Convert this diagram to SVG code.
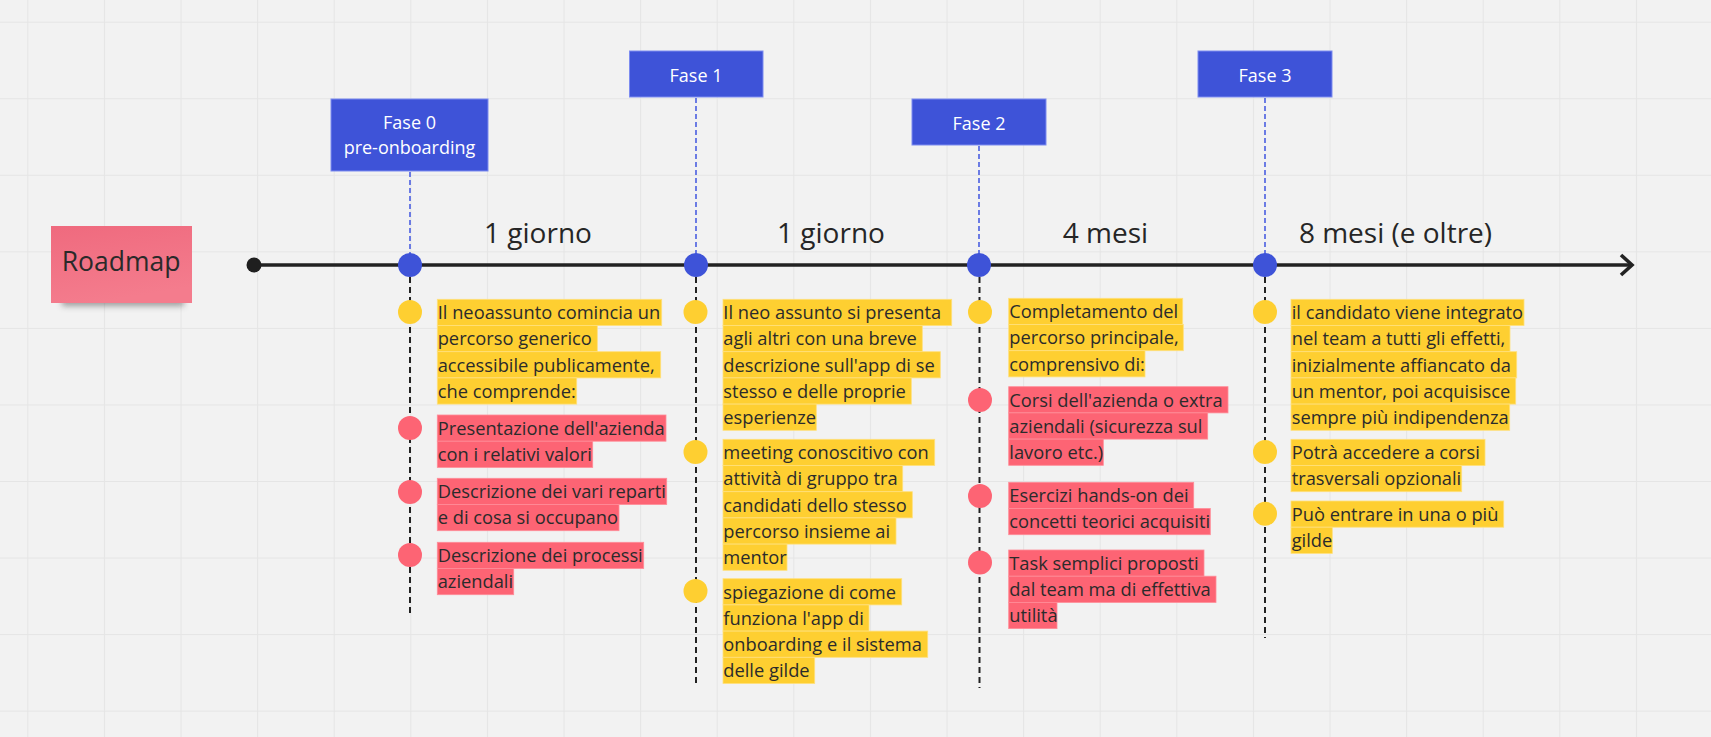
<svg xmlns="http://www.w3.org/2000/svg" width="1711" height="737" viewBox="0 0 1711 737">
<defs>
<pattern id="grid" patternUnits="userSpaceOnUse" x="27.3" y="21.7" width="76.6" height="76.55">
<path d="M0.5 0V76.55M0 0.5H76.6" stroke="#e5e5e5" stroke-width="1.2" fill="none"/>
</pattern>
<linearGradient id="sticky" x1="0" y1="0" x2="0.3" y2="1">
<stop offset="0" stop-color="#ef6a7e"/>
<stop offset="1" stop-color="#f47c8d"/>
</linearGradient>
<filter id="shadow" x="-20%" y="-50%" width="140%" height="200%">
<feGaussianBlur stdDeviation="3"/>
</filter>
<marker id="arrow" markerUnits="userSpaceOnUse" markerWidth="30" markerHeight="30" refX="14" refY="12" orient="auto">
<path d="M3 2 L14 12 L3 22" fill="none" stroke="#222" stroke-width="3.6" stroke-linejoin="miter"/>
</marker>
</defs>
<style>
.t{font-family:"Open Sans","Noto Sans","Liberation Sans",sans-serif;}
.item{font-size:18.3px;fill:#2b2b2b;}
.hy{fill:#fecf31;stroke:#ffe07c;stroke-width:0.8;}
.hr{fill:#fd6474;stroke:#ff8c98;stroke-width:0.8;}
.cy{fill:#fecf31;}
.cr{fill:#fd6474;}
.fase rect{fill:#3e53d8;stroke:#7d8cf0;stroke-width:1;}
.fase text{font-size:18px;fill:#ffffff;text-anchor:middle;}
.dur{font-size:28px;fill:#262626;text-anchor:middle;}
.vdash{stroke:#222;stroke-width:2;stroke-dasharray:6 4;fill:none;}
.bdash{stroke:#4a5ee0;stroke-width:1.6;stroke-dasharray:5 3;fill:none;}
.dot{fill:#3e53d8;}
</style>
<rect width="1711" height="737" fill="#f2f2f2"/>
<rect width="1711" height="737" fill="url(#grid)"/>

<g id="roadmap">
<rect x="62" y="292" width="122" height="14" fill="#555" opacity="0.55" filter="url(#shadow)"/>
<rect x="51" y="226" width="141" height="77" fill="url(#sticky)"/>
<text class="t" x="121" y="271" font-size="26.5" fill="#2a2a2a" text-anchor="middle">Roadmap</text>
</g>

<g id="connectors">
<line x1="254" y1="265" x2="1632" y2="265" stroke="#222" stroke-width="3.4" marker-end="url(#arrow)"/>
<line class="bdash" x1="410" y1="172" x2="410" y2="254"/>
<line class="bdash" x1="696" y1="98" x2="696" y2="254"/>
<line class="bdash" x1="979" y1="146" x2="979" y2="254"/>
<line class="bdash" x1="1265" y1="98" x2="1265" y2="254"/>
<line class="vdash" x1="410" y1="277" x2="410" y2="614"/>
<line class="vdash" x1="696" y1="277" x2="696" y2="687"/>
<line class="vdash" x1="979.5" y1="277" x2="979.5" y2="688"/>
<line class="vdash" x1="1265" y1="277" x2="1265" y2="638"/>
</g>

<g id="start">
<circle cx="254" cy="265" r="7.5" fill="#1f1f1f"/>
</g>

<g id="milestones">
<circle class="dot" cx="410" cy="265" r="12"/>
<circle class="dot" cx="696" cy="265" r="12"/>
<circle class="dot" cx="979" cy="265" r="12"/>
<circle class="dot" cx="1265" cy="265" r="12"/>
</g>

<g id="fase0" class="fase t">
<rect x="331" y="99" width="157" height="72"/>
<text x="409.5" y="128.5">Fase 0</text>
<text x="409.5" y="154">pre-onboarding</text>
</g>
<g id="fase1" class="fase t">
<rect x="629.5" y="51" width="133.5" height="46"/>
<text x="696" y="81.5">Fase 1</text>
</g>
<g id="fase2" class="fase t">
<rect x="912" y="99" width="134" height="46"/>
<text x="979" y="129.5">Fase 2</text>
</g>
<g id="fase3" class="fase t">
<rect x="1198" y="51" width="134" height="46"/>
<text x="1265" y="81.5">Fase 3</text>
</g>

<g id="durations" class="t">
<text class="dur" x="538" y="243">1 giorno</text>
<text class="dur" x="831" y="243">1 giorno</text>
<text class="dur" x="1105.5" y="243">4 mesi</text>
<text class="dur" x="1395.5" y="243">8 mesi (e oltre)</text>
</g>

<!-- Column 0 -->
<g id="c0-a">
<circle class="cy" cx="410" cy="312" r="12"/>
<rect class="hy" x="437.3" y="299.3" width="224.4" height="26.2"/>
<rect class="hy" x="437.3" y="325.5" width="160" height="26.2"/>
<rect class="hy" x="437.3" y="351.7" width="223.4" height="26.2"/>
<rect class="hy" x="437.3" y="377.9" width="139.4" height="26.2"/>
<text class="t item"><tspan x="437.7" y="319.1">Il neoassunto comincia un</tspan><tspan x="437.7" y="345.3">percorso generico</tspan><tspan x="437.7" y="371.5">accessibile publicamente,</tspan><tspan x="437.7" y="397.7">che comprende:</tspan></text>
</g>
<g id="c0-b">
<circle class="cr" cx="410" cy="428" r="12"/>
<rect class="hr" x="437.3" y="415" width="228.7" height="26.2"/>
<rect class="hr" x="437.3" y="441.2" width="155.4" height="26.2"/>
<text class="t item"><tspan x="437.7" y="434.8">Presentazione dell'azienda</tspan><tspan x="437.7" y="461">con i relativi valori</tspan></text>
</g>
<g id="c0-c">
<circle class="cr" cx="410" cy="492" r="12"/>
<rect class="hr" x="437.3" y="478.3" width="229.4" height="26.2"/>
<rect class="hr" x="437.3" y="504.5" width="181.7" height="26.2"/>
<text class="t item"><tspan x="437.7" y="498.1">Descrizione dei vari reparti</tspan><tspan x="437.7" y="524.3">e di cosa si occupano</tspan></text>
</g>
<g id="c0-d">
<circle class="cr" cx="410" cy="555" r="12"/>
<rect class="hr" x="437.3" y="542.3" width="206.4" height="26.2"/>
<rect class="hr" x="437.3" y="568.5" width="76.4" height="26.2"/>
<text class="t item"><tspan x="437.7" y="562.1">Descrizione dei processi</tspan><tspan x="437.7" y="588.3">aziendali</tspan></text>
</g>

<!-- Column 1 -->
<g id="c1-a">
<circle class="cy" cx="695.5" cy="312" r="12"/>
<rect class="hy" x="723" y="299.3" width="228.7" height="26.2"/>
<rect class="hy" x="723" y="325.5" width="199.3" height="26.2"/>
<rect class="hy" x="723" y="351.7" width="217.3" height="26.2"/>
<rect class="hy" x="723" y="377.9" width="188.3" height="26.2"/>
<rect class="hy" x="723" y="404.1" width="93.3" height="26.2"/>
<text class="t item"><tspan x="723.3" y="319.1">Il neo assunto si presenta</tspan><tspan x="723.3" y="345.3">agli altri con una breve</tspan><tspan x="723.3" y="371.5">descrizione sull'app di se</tspan><tspan x="723.3" y="397.7">stesso e delle proprie</tspan><tspan x="723.3" y="423.9">esperienze</tspan></text>
</g>
<g id="c1-b">
<circle class="cy" cx="695.5" cy="452" r="12"/>
<rect class="hy" x="723" y="439.3" width="211.7" height="26.2"/>
<rect class="hy" x="723" y="465.5" width="179.7" height="26.2"/>
<rect class="hy" x="723" y="491.7" width="189.3" height="26.2"/>
<rect class="hy" x="723" y="517.9" width="173" height="26.2"/>
<rect class="hy" x="723" y="544.1" width="64" height="26.2"/>
<text class="t item"><tspan x="723.3" y="459.1">meeting conoscitivo con</tspan><tspan x="723.3" y="485.3">attività di gruppo tra</tspan><tspan x="723.3" y="511.5">candidati dello stesso</tspan><tspan x="723.3" y="537.7">percorso insieme ai</tspan><tspan x="723.3" y="563.9">mentor</tspan></text>
</g>
<g id="c1-c">
<circle class="cy" cx="695.5" cy="591" r="12"/>
<rect class="hy" x="723" y="578.7" width="178.7" height="26.2"/>
<rect class="hy" x="723" y="604.9" width="146" height="26.2"/>
<rect class="hy" x="723" y="631.1" width="204.7" height="26.2"/>
<rect class="hy" x="723" y="657.3" width="91.7" height="26.2"/>
<text class="t item"><tspan x="723.3" y="598.5">spiegazione di come</tspan><tspan x="723.3" y="624.7">funziona l'app di</tspan><tspan x="723.3" y="650.9">onboarding e il sistema</tspan><tspan x="723.3" y="677.1">delle gilde</tspan></text>
</g>

<!-- Column 2 -->
<g id="c2-a">
<circle class="cy" cx="980" cy="312" r="12"/>
<rect class="hy" x="1008.7" y="298.3" width="174" height="26.2"/>
<rect class="hy" x="1008.7" y="324.5" width="174.6" height="26.2"/>
<rect class="hy" x="1008.7" y="350.7" width="136.3" height="26.2"/>
<text class="t item"><tspan x="1009.3" y="318.1">Completamento del</tspan><tspan x="1009.3" y="344.3">percorso principale,</tspan><tspan x="1009.3" y="370.5">comprensivo di:</tspan></text>
</g>
<g id="c2-b">
<circle class="cr" cx="980" cy="400" r="12"/>
<rect class="hr" x="1008.7" y="386.7" width="219.3" height="26.2"/>
<rect class="hr" x="1008.7" y="412.9" width="199" height="26.2"/>
<rect class="hr" x="1008.7" y="439.1" width="94.6" height="26.2"/>
<text class="t item"><tspan x="1009.3" y="406.5">Corsi dell'azienda o extra</tspan><tspan x="1009.3" y="432.7">aziendali (sicurezza sul</tspan><tspan x="1009.3" y="458.9">lavoro etc.)</tspan></text>
</g>
<g id="c2-c">
<circle class="cr" cx="980" cy="496" r="12"/>
<rect class="hr" x="1008.7" y="482.3" width="185" height="26.2"/>
<rect class="hr" x="1008.7" y="508.5" width="201.6" height="26.2"/>
<text class="t item"><tspan x="1009.3" y="502.1">Esercizi hands-on dei</tspan><tspan x="1009.3" y="528.3">concetti teorici acquisiti</tspan></text>
</g>
<g id="c2-d">
<circle class="cr" cx="980" cy="562.5" r="12"/>
<rect class="hr" x="1008.7" y="550" width="195.3" height="26.2"/>
<rect class="hr" x="1008.7" y="576.2" width="207.3" height="26.2"/>
<rect class="hr" x="1008.7" y="602.4" width="48.3" height="26.2"/>
<text class="t item"><tspan x="1009.3" y="569.8">Task semplici proposti</tspan><tspan x="1009.3" y="596">dal team ma di effettiva</tspan><tspan x="1009.3" y="622.2">utilità</tspan></text>
</g>

<!-- Column 3 -->
<g id="c3-a">
<circle class="cy" cx="1265" cy="312" r="12"/>
<rect class="hy" x="1291" y="299.3" width="233" height="26.2"/>
<rect class="hy" x="1291" y="325.5" width="219" height="26.2"/>
<rect class="hy" x="1291" y="351.7" width="225.7" height="26.2"/>
<rect class="hy" x="1291" y="377.9" width="224.7" height="26.2"/>
<rect class="hy" x="1291" y="404.1" width="218.7" height="26.2"/>
<text class="t item"><tspan x="1291.7" y="319.1">il candidato viene integrato</tspan><tspan x="1291.7" y="345.3">nel team a tutti gli effetti,</tspan><tspan x="1291.7" y="371.5">inizialmente affiancato da</tspan><tspan x="1291.7" y="397.7">un mentor, poi acquisisce</tspan><tspan x="1291.7" y="423.9">sempre più indipendenza</tspan></text>
</g>
<g id="c3-b">
<circle class="cy" cx="1265" cy="452" r="12"/>
<rect class="hy" x="1291" y="439.3" width="194" height="26.2"/>
<rect class="hy" x="1291" y="465.5" width="170.7" height="26.2"/>
<text class="t item"><tspan x="1291.7" y="459.1">Potrà accedere a corsi</tspan><tspan x="1291.7" y="485.3">trasversali opzionali</tspan></text>
</g>
<g id="c3-c">
<circle class="cy" cx="1265" cy="513.7" r="12"/>
<rect class="hy" x="1291" y="501" width="212.7" height="26.2"/>
<rect class="hy" x="1291" y="527.2" width="41.3" height="26.2"/>
<text class="t item"><tspan x="1291.7" y="520.8">Può entrare in una o più</tspan><tspan x="1291.7" y="547">gilde</tspan></text>
</g>
</svg>
